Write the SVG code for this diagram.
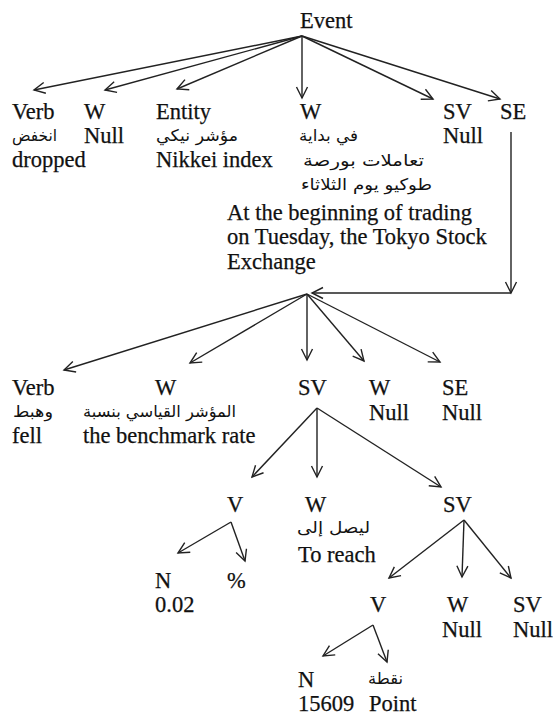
<svg xmlns="http://www.w3.org/2000/svg" width="553" height="716" viewBox="0 0 553 716">
<style>
.t{font-family:"Liberation Serif","Times New Roman",serif;font-size:22.5px;fill:#111;stroke:#111;stroke-width:0.25}
.a{font-family:"DejaVu Sans","Noto Sans",sans-serif;font-size:16px;fill:#111}
.c line,.c path{stroke:#222;stroke-width:1.4;fill:none}
</style>
<defs>
<marker id="ar" markerUnits="userSpaceOnUse" markerWidth="16" markerHeight="14" refX="12" refY="6.5" orient="auto">
<path d="M1,1 L12,6.5 L1,12" fill="none" stroke="#222" stroke-width="1.4"/>
</marker>
</defs>
<rect width="553" height="716" fill="#fff"/>
<g class="c" id="connectors">
<line x1="302" y1="36" x2="34" y2="90" marker-end="url(#ar)"/>
<line x1="302" y1="36" x2="105" y2="90" marker-end="url(#ar)"/>
<line x1="302" y1="36" x2="177" y2="89" marker-end="url(#ar)"/>
<line x1="302" y1="36" x2="302" y2="98" marker-end="url(#ar)"/>
<line x1="302" y1="36" x2="433" y2="99" marker-end="url(#ar)"/>
<line x1="302" y1="36" x2="500" y2="99" marker-end="url(#ar)"/>
<line x1="511" y1="132" x2="511" y2="293" marker-end="url(#ar)"/>
<line x1="511" y1="293" x2="312" y2="293" marker-end="url(#ar)"/>
<line x1="307" y1="294" x2="64" y2="370" marker-end="url(#ar)"/>
<line x1="307" y1="294" x2="190" y2="363" marker-end="url(#ar)"/>
<line x1="307" y1="294" x2="307" y2="360" marker-end="url(#ar)"/>
<line x1="307" y1="294" x2="364" y2="361" marker-end="url(#ar)"/>
<line x1="307" y1="294" x2="440" y2="362" marker-end="url(#ar)"/>
<line x1="317" y1="408" x2="252" y2="477" marker-end="url(#ar)"/>
<line x1="317" y1="408" x2="317" y2="477" marker-end="url(#ar)"/>
<line x1="317" y1="408" x2="441" y2="487" marker-end="url(#ar)"/>
<line x1="231" y1="522" x2="178" y2="553" marker-end="url(#ar)"/>
<line x1="231" y1="522" x2="245" y2="561" marker-end="url(#ar)"/>
<line x1="464" y1="520" x2="389" y2="578" marker-end="url(#ar)"/>
<line x1="464" y1="520" x2="462" y2="577" marker-end="url(#ar)"/>
<line x1="464" y1="520" x2="511" y2="578" marker-end="url(#ar)"/>
<line x1="373" y1="625" x2="323" y2="656" marker-end="url(#ar)"/>
<line x1="373" y1="625" x2="387" y2="662" marker-end="url(#ar)"/>
</g>
<g id="event"><text class="t" x="300" y="28">Event</text></g>
<g id="verb1"><text class="t" x="12" y="119">Verb</text><text class="a" x="12" y="141" textLength="45" lengthAdjust="spacingAndGlyphs">انخفض</text><text class="t" x="12" y="167">dropped</text></g>
<g id="w1"><text class="t" x="84" y="119">W</text><text class="t" x="84" y="143">Null</text></g>
<g id="entity1"><text class="t" x="156" y="119">Entity</text><text class="a" x="156" y="141" textLength="82" lengthAdjust="spacingAndGlyphs">مؤشر نيكي</text><text class="t" x="156" y="167">Nikkei index</text></g>
<g id="w2"><text class="t" x="300" y="119">W</text>
<text class="a" x="299" y="141" textLength="59" lengthAdjust="spacingAndGlyphs">في بداية</text>
<text class="a" x="303" y="166" textLength="121" lengthAdjust="spacingAndGlyphs">تعاملات بورصة</text>
<text class="a" x="301" y="190" textLength="131" lengthAdjust="spacingAndGlyphs">طوكيو يوم الثلاثاء</text>
<text class="t" x="227" y="220">At the beginning of trading</text>
<text class="t" x="227" y="244">on Tuesday, the Tokyo Stock</text>
<text class="t" x="227" y="269">Exchange</text></g>
<g id="sv1"><text class="t" x="443" y="119">SV</text><text class="t" x="443" y="143">Null</text></g>
<g id="se1"><text class="t" x="500" y="119">SE</text></g>
<g id="verb2"><text class="t" x="12" y="395">Verb</text><text class="a" x="13" y="417" textLength="40" lengthAdjust="spacingAndGlyphs">وهبط</text><text class="t" x="12" y="443">fell</text></g>
<g id="w3"><text class="t" x="155" y="395">W</text><text class="a" x="83" y="417" textLength="153" lengthAdjust="spacingAndGlyphs">المؤشر القياسي بنسبة</text><text class="t" x="83" y="443">the benchmark rate</text></g>
<g id="sv2"><text class="t" x="298" y="395">SV</text></g>
<g id="w4"><text class="t" x="369" y="395">W</text><text class="t" x="369" y="420">Null</text></g>
<g id="se2"><text class="t" x="442" y="395">SE</text><text class="t" x="442" y="420">Null</text></g>
<g id="v1"><text class="t" x="227" y="512">V</text></g>
<g id="w5"><text class="t" x="305" y="512">W</text><text class="a" x="297" y="533" textLength="73" lengthAdjust="spacingAndGlyphs">ليصل إلى</text><text class="t" x="298" y="562">To reach</text></g>
<g id="sv3"><text class="t" x="443" y="512">SV</text></g>
<g id="n1"><text class="t" x="155" y="588">N</text><text class="t" x="155" y="612">0.02</text></g>
<g id="pct"><text class="t" x="227" y="588">%</text></g>
<g id="v2"><text class="t" x="370" y="612">V</text></g>
<g id="w6"><text class="t" x="447" y="612">W</text><text class="t" x="442" y="637">Null</text></g>
<g id="sv4"><text class="t" x="513" y="612">SV</text><text class="t" x="513" y="637">Null</text></g>
<g id="n2"><text class="t" x="298" y="687">N</text><text class="t" x="298" y="711">15609</text></g>
<g id="point"><text class="a" x="368" y="684" textLength="35" lengthAdjust="spacingAndGlyphs">نقطة</text><text class="t" x="369" y="711">Point</text></g>
</svg>
